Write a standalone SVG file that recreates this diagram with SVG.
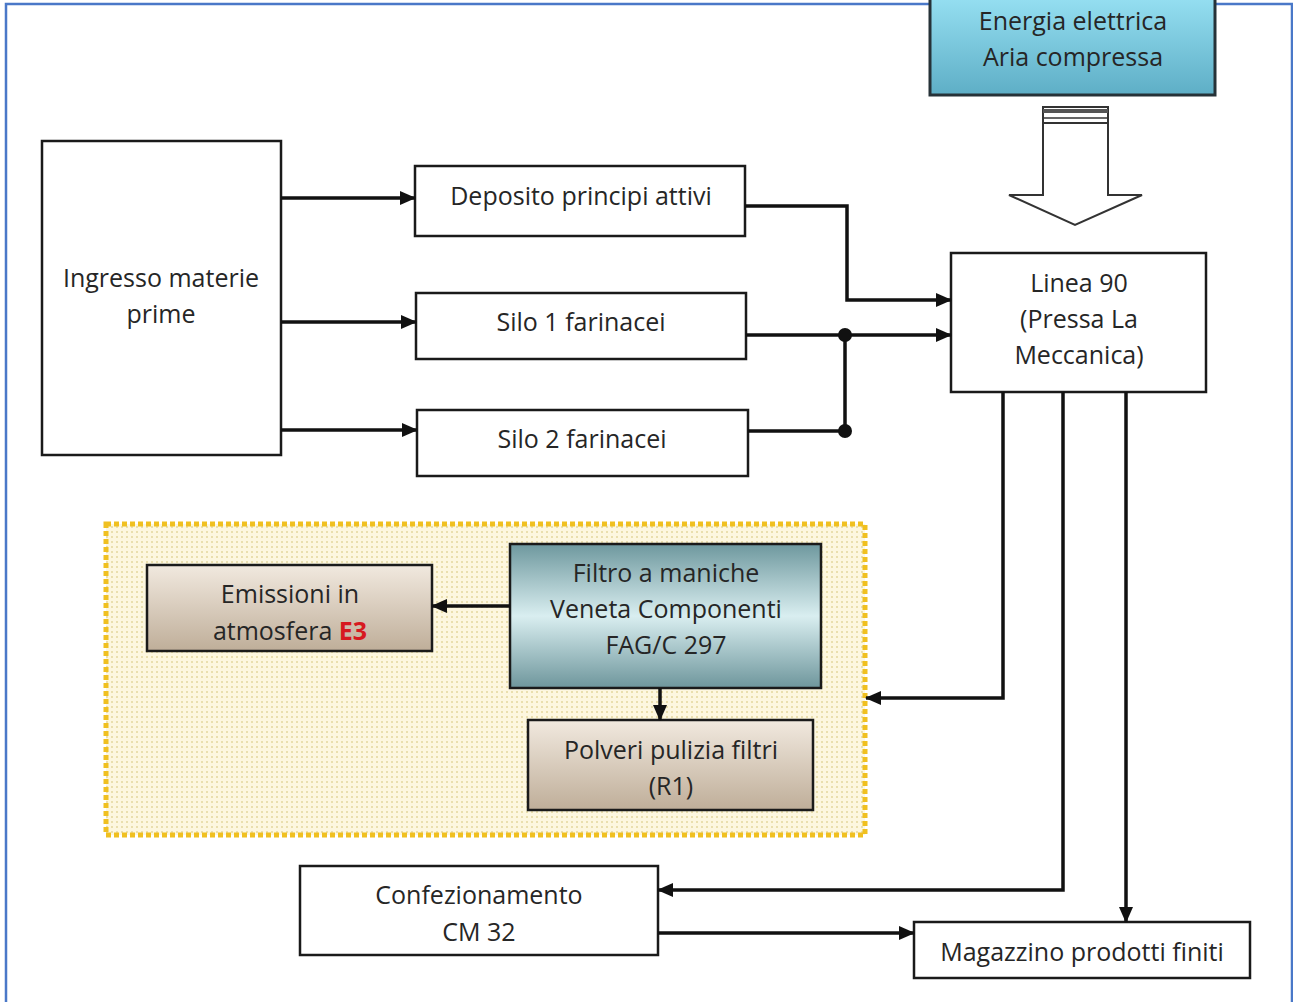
<svg xmlns="http://www.w3.org/2000/svg" width="1293" height="1002" viewBox="0 0 1293 1002">
<defs>
<style>
.box{fill:#fff;stroke:#1a1a1a;stroke-width:2.5}
.t{font-family:"Open Sans",Lato,"Liberation Sans",sans-serif;font-size:25px;fill:#262626;text-anchor:middle}
.ln{fill:none;stroke:#111;stroke-width:3.5}
</style>
<marker id="ah2" markerWidth="16" markerHeight="14" refX="15" refY="7" orient="auto" markerUnits="userSpaceOnUse" viewBox="0 0 16 14">
<path d="M0,0 L16,7 L0,14 Z" fill="#111"/>
</marker>
<linearGradient id="gBlue" x1="0" y1="0" x2="0" y2="1">
<stop offset="0" stop-color="#96e0f2"/>
<stop offset="1" stop-color="#5eaec6"/>
</linearGradient>
<linearGradient id="gTeal" x1="0" y1="0" x2="0" y2="1">
<stop offset="0" stop-color="#6e989e"/>
<stop offset="0.5" stop-color="#d9eef0"/>
<stop offset="1" stop-color="#6e969c"/>
</linearGradient>
<linearGradient id="gTan" x1="0" y1="0" x2="0" y2="1">
<stop offset="0" stop-color="#f1e9df"/>
<stop offset="1" stop-color="#bfae99"/>
</linearGradient>
<pattern id="dots" width="5" height="5" patternUnits="userSpaceOnUse">
<rect width="5" height="5" fill="#fdf7df"/>
<rect x="1" y="1" width="2" height="2" fill="#eadfae"/>
</pattern>
</defs>
<rect width="1293" height="1002" fill="#fff"/>
<path d="M6,1002 V4 H1292 V1002" fill="none" stroke="#4a78c8" stroke-width="2.5"/>

<g id="zona-filtro">
<rect x="106" y="524" width="759" height="311" fill="url(#dots)" stroke="#f0c020" stroke-width="5" stroke-dasharray="5 3"/>
</g>

<g id="energia">
<rect x="930" y="-4" width="285" height="99" fill="url(#gBlue)" stroke="#263238" stroke-width="3"/>
<text class="t" x="1073" y="30">Energia elettrica</text>
<text class="t" x="1073" y="66">Aria compressa</text>
</g>

<g id="freccia-energia">
<path d="M1043,123 V195 H1009 L1075,225 L1142,195 H1108 V123" fill="#fff" stroke="#333" stroke-width="2"/>
<rect x="1043" y="107" width="65" height="16" fill="#fff" stroke="#333" stroke-width="2"/>
<rect x="1043" y="109" width="65" height="4" fill="#555"/>
<line x1="1043" y1="118" x2="1108" y2="118" stroke="#333" stroke-width="1.5"/>
</g>

<g id="ingresso">
<rect class="box" x="42" y="141" width="239" height="314"/>
<text class="t" x="161" y="287">Ingresso materie</text>
<text class="t" x="161" y="323">prime</text>
</g>

<g id="deposito">
<rect class="box" x="415" y="166" width="330" height="70"/>
<text class="t" x="581" y="205">Deposito principi attivi</text>
</g>

<g id="silo1">
<rect class="box" x="416" y="293" width="330" height="66"/>
<text class="t" x="581" y="331">Silo 1 farinacei</text>
</g>

<g id="silo2">
<rect class="box" x="417" y="410" width="331" height="66"/>
<text class="t" x="582" y="448">Silo 2 farinacei</text>
</g>

<g id="linea90">
<rect class="box" x="951" y="253" width="255" height="139"/>
<text class="t" x="1079" y="292">Linea 90</text>
<text class="t" x="1079" y="328">(Pressa La</text>
<text class="t" x="1079" y="364">Meccanica)</text>
</g>

<g id="emissioni">
<rect x="147" y="565" width="285" height="86" fill="url(#gTan)" stroke="#1a1a1a" stroke-width="2.5"/>
<text class="t" x="290" y="603">Emissioni in</text>
<text class="t" x="290" y="640">atmosfera <tspan fill="#d71920" font-weight="bold">E3</tspan></text>
</g>

<g id="filtro">
<rect x="510" y="544" width="311" height="144" fill="url(#gTeal)" stroke="#1a1a1a" stroke-width="2.5"/>
<text class="t" x="666" y="582">Filtro a maniche</text>
<text class="t" x="666" y="618">Veneta Componenti</text>
<text class="t" x="666" y="654">FAG/C 297</text>
</g>

<g id="polveri">
<rect x="528" y="720" width="285" height="90" fill="url(#gTan)" stroke="#1a1a1a" stroke-width="2.5"/>
<text class="t" x="671" y="759">Polveri pulizia filtri</text>
<text class="t" x="671" y="795">(R1)</text>
</g>

<g id="confezionamento">
<rect class="box" x="300" y="866" width="358" height="89"/>
<text class="t" x="479" y="904">Confezionamento</text>
<text class="t" x="479" y="941">CM 32</text>
</g>

<g id="magazzino">
<rect class="box" x="914" y="922" width="336" height="56"/>
<text class="t" x="1082" y="961">Magazzino prodotti finiti</text>
</g>

<g id="connettori">
<path class="ln" d="M281,198 H415" marker-end="url(#ah2)"/>
<path class="ln" d="M281,322 H416" marker-end="url(#ah2)"/>
<path class="ln" d="M281,430 H417" marker-end="url(#ah2)"/>
<path class="ln" d="M745,206 H847 V300 H951" marker-end="url(#ah2)"/>
<path class="ln" d="M746,335 H951" marker-end="url(#ah2)"/>
<path class="ln" d="M748,431 H845 V335"/>
<circle cx="845" cy="335" r="7" fill="#111"/>
<circle cx="845" cy="431" r="7" fill="#111"/>
<path class="ln" d="M1003,392 V698 H866" marker-end="url(#ah2)"/>
<path class="ln" d="M1063,392 V890 H658" marker-end="url(#ah2)"/>
<path class="ln" d="M1126,392 V922" marker-end="url(#ah2)"/>
<path class="ln" d="M658,933 H914" marker-end="url(#ah2)"/>
<path class="ln" d="M510,606 H432" marker-end="url(#ah2)"/>
<path class="ln" d="M660,688 V720" marker-end="url(#ah2)"/>
</g>
</svg>
